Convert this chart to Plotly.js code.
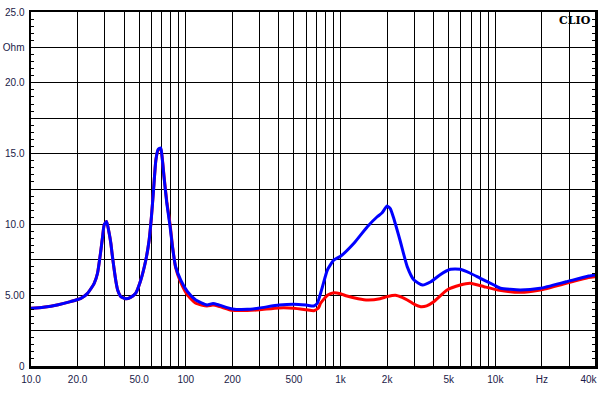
<!DOCTYPE html>
<html>
<head>
<meta charset="utf-8">
<script src="https://cdn.plot.ly/plotly-3.0.1.min.js"></script>
<style>html,body{margin:0;padding:0;background:#fff;}#chart{width:602px;height:396px;}</style>
</head>
<body>
<div id="chart"></div>
<script>
// Frequencies (Hz) and impedance (Ohm)
const freqBlue = [10,12,15,18,21,23.2,25.6,26.9,28.3,29.0,29.7,30.8,32.0,32.8,33.6,34.5,35.4,36.3,38.1,41.0,44.0,47.4,50.8,55.2,58.0,60,61.9,64.1,66.3,68.9,70.6,72.3,75.4,79.2,82.0,86.0,92.8,102.6,116,137,150,165,200,250,300,400,500,600,672,708,764,822,906,1000,1220,1490,1725,1850,2000,2100,2190,2420,2700,2980,3380,3830,4380,5130,5940,6900,8000,9800,10800,14500,19500,28700,40000,44200];
const zBlue = [4.07,4.15,4.33,4.55,4.78,5.13,5.84,6.55,8.2,9.13,9.96,10.2,9.37,8.67,7.72,6.78,5.95,5.37,4.9,4.75,4.85,5.13,5.95,7.49,8.9,10.54,12.43,14.55,15.3,15.4,14.55,13.37,11.49,9.84,8.43,7.01,6.07,5.25,4.66,4.31,4.42,4.3,4.03,4.0,4.1,4.3,4.36,4.3,4.24,4.43,5.6,6.78,7.49,7.75,8.67,9.84,10.54,10.8,11.3,11.1,10.54,8.9,7.0,6.07,5.72,5.95,6.43,6.83,6.83,6.55,6.19,5.72,5.49,5.37,5.49,5.95,6.35,6.43];

const freqRed = [10,12,15,18,21,23.2,25.6,26.9,28.3,29.0,29.7,30.8,32.0,32.8,33.6,34.5,35.4,36.3,38.1,41.0,44.0,47.4,50.8,55.2,58.0,60,61.9,64.1,66.3,68.9,70.6,72.3,75.4,79.2,82.0,86.0,92.8,102.6,116,137,150,165,200,250,300,400,500,600,672,720,743,822,906,1000,1100,1300,1500,1800,2000,2260,2500,2700,3000,3300,3600,4000,4880,5940,6900,8460,10400,14500,19500,28700,40000,44200];
const zRed = [4.07,4.15,4.33,4.55,4.78,5.13,5.84,6.55,8.2,9.13,9.96,10.2,9.37,8.67,7.72,6.78,5.95,5.37,4.9,4.75,4.85,5.13,5.95,7.49,8.9,10.54,12.43,14.55,15.25,15.35,14.6,13.45,11.6,10.0,8.5,6.95,5.9,5.01,4.43,4.24,4.3,4.2,3.93,3.92,3.97,4.1,4.08,3.97,3.9,4.1,4.43,5.0,5.18,5.1,4.94,4.75,4.66,4.75,4.9,5.0,4.85,4.66,4.35,4.19,4.25,4.54,5.37,5.72,5.84,5.6,5.37,5.2,5.37,5.84,6.25,6.3];

// Axis ticks
const yTickVals = [0,2.5,5,7.5,10,12.5,15,17.5,20,22.5,25];
const yTickText = ['0','','5.00','','10.0','','15.0','','20.0','Ohm','25.0'];
const xGridVals = [10,20,30,40,50,60,70,80,90,100,200,300,400,500,600,700,800,900,1000,2000,3000,4000,5000,6000,7000,8000,9000,10000,20000,30000];
const xLabelVals = [10,20,50,100,200,500,1000,2000,5000,10000,20000,40000];
const xLabelText = ['10.0','20.0','50.0','100','200','500','1k','2k','5k','10k','Hz','40k'];

const xRange = [1, 4.644];
const labelFont = {family:'Liberation Sans, Arial, sans-serif', size:10, color:'#1a1a48'};

const traces = [
  {x:freqRed, y:zRed, type:'scatter', mode:'lines', xaxis:'x', yaxis:'y',
   line:{color:'#ff0000', width:3, shape:'spline', smoothing:0.5}, hoverinfo:'skip'},
  {x:freqBlue, y:zBlue, type:'scatter', mode:'lines', xaxis:'x2', yaxis:'y',
   line:{color:'#0000ff', width:3, shape:'spline', smoothing:0.5}, hoverinfo:'skip'}
];

const layout = {
  width:602, height:396,
  margin:{l:31, r:7, t:12, b:30, pad:0},
  paper_bgcolor:'#ffffff', plot_bgcolor:'#ffffff',
  showlegend:false,
  xaxis:{type:'log', range:xRange, tickmode:'array', tickvals:xGridVals,
    showticklabels:false, ticks:'', showgrid:true, gridcolor:'#000000', gridwidth:1,
    showline:true, linecolor:'#000000', linewidth:2.5, mirror:true, zeroline:false, fixedrange:true},
  xaxis2:{type:'log', range:xRange, overlaying:'x', side:'bottom', tickmode:'array',
    tickvals:xLabelVals, ticktext:xLabelText, ticks:'', showgrid:false, showline:false,
    zeroline:false, tickfont:labelFont, ticklabelstandoff:6, fixedrange:true},
  yaxis:{range:[0,25], tickmode:'array', tickvals:yTickVals, ticktext:yTickText,
    ticks:'inside', ticklen:3, tickcolor:'#000000',
    minor:{tickmode:'linear', tick0:0, dtick:0.5, ticks:'inside', ticklen:3, tickcolor:'#000000', showgrid:false},
    showgrid:true, gridcolor:'#000000', gridwidth:1,
    showline:true, linecolor:'#000000', linewidth:2.5, mirror:'ticks', zeroline:false,
    tickfont:labelFont, ticklabelstandoff:2, fixedrange:true},
  annotations:[{text:'<b>CLIO</b>', xref:'paper', yref:'paper', x:1, y:1, xanchor:'right', yanchor:'top',
    xshift:-2, yshift:0, showarrow:false, font:{family:'DejaVu Serif, Liberation Serif, serif', size:11, color:'#000000'}}]
};

Plotly.newPlot('chart', traces, layout, {staticPlot:true, displayModeBar:false});
</script>
</body>
</html>
